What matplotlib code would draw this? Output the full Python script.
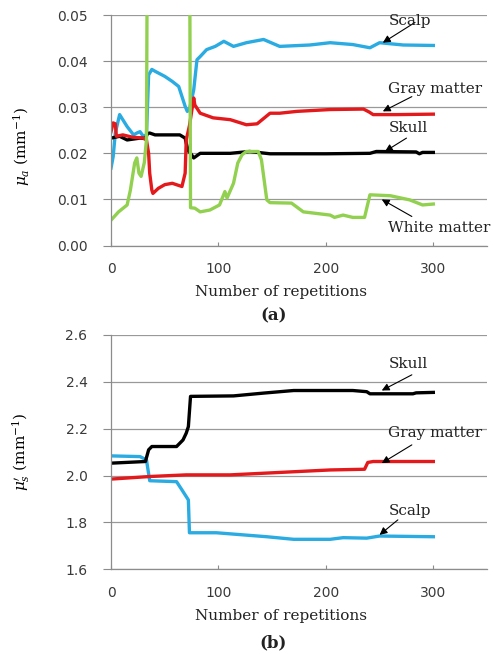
import matplotlib
matplotlib.use('Agg')
import matplotlib.pyplot as plt

plt.rcParams['mathtext.fontset'] = 'dejavuserif'

# ---- panel (a): absorption coefficient ----
scalp_a_x = [0, 2, 4, 8, 15, 21, 24, 27, 30, 33, 35, 38, 41, 50, 57, 63, 69, 71, 73, 77,
             80, 83, 89, 97, 105, 114, 126, 142, 157, 185, 204, 225, 241, 250, 272, 300]
scalp_a_y = [0.0168, 0.0193, 0.0244, 0.0284, 0.0258, 0.0240, 0.0244, 0.0247, 0.0237, 0.0240,
             0.0370, 0.0382, 0.0378, 0.0367, 0.0356, 0.0345, 0.0302, 0.0291, 0.0295, 0.0338,
             0.0403, 0.0410, 0.0425, 0.0432, 0.0443, 0.0432, 0.0440, 0.0447, 0.0432, 0.0435,
             0.0440, 0.0436, 0.0429, 0.0440, 0.0435, 0.0434]

gray_a_x = [0, 2, 4, 5, 11, 20, 30, 33, 35, 36, 38, 39, 44, 50, 57, 66, 69, 70, 73, 77,
            78, 83, 95, 111, 126, 136, 148, 157, 173, 204, 235, 240, 244, 266, 300]
gray_a_y = [0.0247, 0.0266, 0.0264, 0.0237, 0.0240, 0.0235, 0.0233, 0.0229, 0.0200, 0.0157,
            0.0120, 0.0113, 0.0124, 0.0132, 0.0135, 0.0128, 0.0157, 0.0229, 0.0260, 0.0320,
            0.0305, 0.0287, 0.0277, 0.0273, 0.0262, 0.0264, 0.0287, 0.0287, 0.0291, 0.0295,
            0.0296, 0.0290, 0.0284, 0.0284, 0.0285]

skull_a_x = [0, 8, 15, 27, 32, 34, 36, 41, 46, 64, 69, 70, 72, 74, 77, 83, 111, 129, 148,
             200, 241, 247, 284, 287, 290, 300]
skull_a_y = [0.0233, 0.0237, 0.0229, 0.0233, 0.0232, 0.0243, 0.0244, 0.0240, 0.0240, 0.0240,
             0.0233, 0.0222, 0.0205, 0.0200, 0.0190, 0.0200, 0.0200, 0.0204, 0.0199, 0.0199,
             0.0200, 0.0204, 0.0203, 0.0199, 0.0202, 0.0202]

white_a_x = [0, 7, 15, 18, 22, 24, 26, 28, 31, 33, 34, 73, 74, 78, 83, 92, 101, 106, 108,
             114, 118, 122, 126, 137, 140, 145, 148, 168, 179, 204, 208, 216, 225, 236, 241,
             260, 278, 290, 300]
white_a_y = [0.0055, 0.0073, 0.0088, 0.0120, 0.0179, 0.0190, 0.0157, 0.0150, 0.0180, 0.0230,
             0.0800, 0.0800, 0.0082, 0.0081, 0.0073, 0.0077, 0.0088, 0.0117, 0.0103, 0.0135,
             0.0179, 0.0197, 0.0204, 0.0204, 0.0186, 0.0099, 0.0093, 0.0092, 0.0073, 0.0066,
             0.0061, 0.0066, 0.0061, 0.0061, 0.0110, 0.0108, 0.0099, 0.0088, 0.0090]

# ---- panel (b): reduced scattering coefficient ----
skull_b_x = [0, 32, 35, 38, 61, 67, 70, 72, 74, 114, 142, 170, 225, 238, 241, 281, 284, 300]
skull_b_y = [2.053, 2.060, 2.110, 2.124, 2.124, 2.152, 2.181, 2.209, 2.338, 2.340, 2.352,
             2.363, 2.363, 2.358, 2.349, 2.349, 2.353, 2.355]

gray_b_x = [0, 36, 70, 111, 142, 173, 204, 236, 239, 244, 300]
gray_b_y = [1.985, 1.996, 2.003, 2.003, 2.010, 2.017, 2.024, 2.027, 2.056, 2.060, 2.060]

scalp_b_x = [0, 27, 33, 36, 61, 66, 72, 73, 98, 145, 170, 204, 216, 238, 250, 300]
scalp_b_y = [2.084, 2.081, 2.067, 1.978, 1.974, 1.939, 1.896, 1.756, 1.756, 1.739, 1.728,
             1.728, 1.735, 1.733, 1.742, 1.739]

xticks = [0, 100, 200, 300]
yticks_a = [0.00, 0.01, 0.02, 0.03, 0.04, 0.05]
yticks_b = [1.6, 1.8, 2.0, 2.2, 2.4, 2.6]

BLUE = '#2AABE2'
RED = '#E3191C'
GREEN = '#92D050'
SERIF = 'DejaVu Serif'
LW = 2.4

fig = plt.figure(figsize=(4.93, 6.54), dpi=100)
ax1 = fig.add_axes([0.2252, 0.6246, 0.7627, 0.3524])
ax2 = fig.add_axes([0.2252, 0.1295, 0.7627, 0.3583])


def style(ax, yticks, fmt):
    ax.set_xlim(0, 350)
    ax.set_ylim(yticks[0], yticks[-1])
    ax.set_xticks(xticks)
    ax.set_yticks(yticks)
    ax.set_yticklabels([fmt % v for v in yticks])
    ax.grid(axis='y', color='#999999', lw=0.9)
    ax.set_axisbelow(True)
    for s in ['top', 'right']:
        ax.spines[s].set_visible(False)
    for s in ['left', 'bottom']:
        ax.spines[s].set_color('#8c8c8c')
        ax.spines[s].set_linewidth(0.9)
    ax.tick_params(axis='y', direction='out', length=6, pad=11, colors='#8c8c8c',
                   labelcolor='#3a3a3a', labelsize=10)
    ax.tick_params(axis='x', direction='in', length=3, pad=12, colors='#8c8c8c',
                   labelcolor='#3a3a3a', labelsize=10)
    ax.set_xlabel('Number of repetitions', family=SERIF, fontsize=11, color='#222222')
    ax.xaxis.set_label_coords(0.452, -0.17)


def note(ax, label, text_xy, start, tip):
    ax.annotate('', xy=tip, xytext=start,
                arrowprops=dict(arrowstyle='-|>', color='black', lw=0.8,
                                mutation_scale=11, shrinkA=0, shrinkB=0))
    ax.text(text_xy[0], text_xy[1], label, family=SERIF, fontsize=11,
            ha='center', va='center', color='#222222')


# panel (a)
ax1.plot(scalp_a_x, scalp_a_y, color=BLUE, lw=LW)
ax1.plot(skull_a_x, skull_a_y, color='black', lw=LW)
ax1.plot(gray_a_x, gray_a_y, color=RED, lw=LW)
ax1.plot(white_a_x, white_a_y, color=GREEN, lw=LW)
style(ax1, yticks_a, '%.2f')
ax1.set_ylabel(r'$\mu_a$ (mm$^{-1}$)', family=SERIF, fontsize=11)
ax1.yaxis.set_label_coords(-0.21, 0.43)

note(ax1, 'Scalp', (278, 0.0486), (283, 0.0484), (253, 0.0440))
note(ax1, 'Gray matter', (302, 0.0340), (280, 0.0323), (253, 0.0291))
note(ax1, 'Skull', (277, 0.0255), (275, 0.0233), (255, 0.0204))
note(ax1, 'White matter', (305, 0.0038), (280, 0.0063), (252, 0.0100))

# panel (b)
ax2.plot(scalp_b_x, scalp_b_y, color=BLUE, lw=LW)
ax2.plot(gray_b_x, gray_b_y, color=RED, lw=LW)
ax2.plot(skull_b_x, skull_b_y, color='black', lw=LW)
style(ax2, yticks_b, '%.1f')
ax2.set_ylabel(r"$\mu_s'$ (mm$^{-1}$)", family=SERIF, fontsize=11)
ax2.yaxis.set_label_coords(-0.21, 0.5)

note(ax2, 'Skull', (277, 2.478), (280, 2.430), (252, 2.363))
note(ax2, 'Gray matter', (302, 2.180), (280, 2.131), (252, 2.053))
note(ax2, 'Scalp', (278, 1.849), (267, 1.811), (250, 1.747))

fig.text(274 / 493, 1 - 316 / 654, '(a)', family=SERIF, fontsize=12,
         fontweight='bold', ha='center', va='center', color='#222222')
fig.text(273 / 493, 1 - 643 / 654, '(b)', family=SERIF, fontsize=12,
         fontweight='bold', ha='center', va='center', color='#222222')

fig.savefig('out.png', dpi=100)
